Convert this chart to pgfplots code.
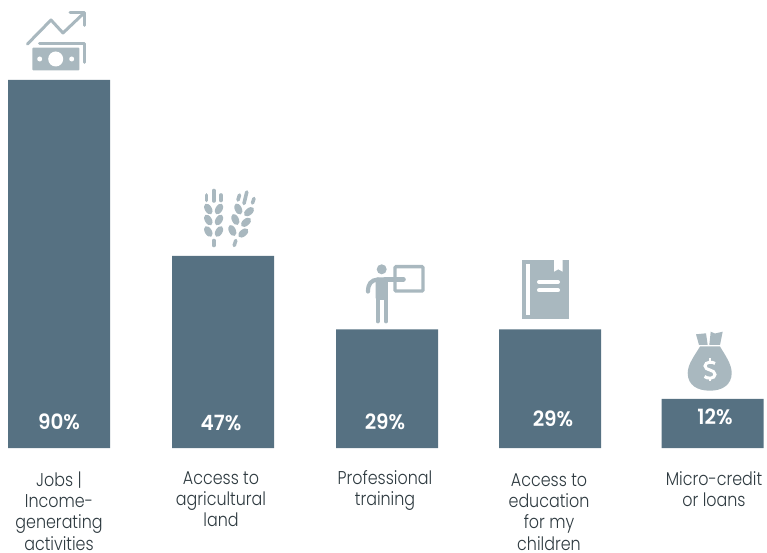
\documentclass[border=0pt]{standalone}
\usepackage{fontspec}
\setmainfont{Poppins Light}[FakeStretch=0.86]
\newfontfamily\pct{Poppins SemiBold}[FakeStretch=0.95]
\usepackage{pgfplots}
\pgfplotsset{compat=1.18}
\definecolor{bar}{HTML}{567182}
\definecolor{ico}{HTML}{A9B8BF}
\definecolor{txt}{HTML}{2E3A40}
\begin{document}
\begin{tikzpicture}
\path[use as bounding box] (0,0) rectangle (767pt,553pt);
\begin{axis}[at={(0,0)},anchor=south west,scale only axis,width=767pt,height=553pt,
  xmin=0,xmax=767,ymin=-25.67,ymax=109.54,axis lines=none,clip=false,
  ybar,bar width=102pt,bar shift=0pt]
\addplot[fill=bar,draw=none] coordinates {(59,90) (223,47) (387,29) (550,29) (712.5,12)};
\end{axis}
\begin{scope}[shift={(0,553pt)},x=1pt,y=-1pt]
% labels
\tikzset{lab/.style={align=center,text=txt,font=\fontsize{18.5}{21.3}\selectfont,inner sep=0pt},
 p/.style={text=white,font=\pct\fontsize{21}{24}\selectfont,inner sep=0pt}}
\node[lab] at (59,511) {Jobs |\\Income-\\generating\\activities};
\node[lab] at (221,499) {Access to\\agricultural\\land};
\node[lab] at (385,490.5) {Professional\\training};
\node[lab] at (549,512) {Access to\\education\\for my\\children};
\node[lab] at (714,489) {Micro-credit\\or loans};
\node[p] at (59,422) {90\%};
\node[p] at (221,423) {47\%};
\node[p] at (385,422) {29\%};
\node[p] at (553,419) {29\%};
\node[p] at (715,417) {12\%};
% icon 1
\draw[ico,line width=3pt,line cap=round,line join=round] (27.5,44)--(51,20)--(63,33)--(83,14);
\draw[ico,line width=3pt,line cap=round,line join=round] (70,12.8)--(84.3,12.8)--(84.3,25.5);
\draw[ico,line width=3pt,line cap=round,line join=round] (39.5,43.5)--(84.5,43.5)--(84.5,62.5);
\fill[ico,rounded corners=0.8pt] (32.3,47.7) rectangle (79.3,70.3);
\fill[white] (55.7,59) circle[radius=7.5pt];
\fill[white] (39.7,59) circle[radius=2.5pt] (71.7,59) circle[radius=2.5pt];
% icon 2: wheat
\begin{scope}[ico,line cap=round,line width=3.6pt]
\draw (213.7,190.5)--(213.7,201);
\draw (206.5,195)--(206.5,200.5) (221,195)--(221,200.5);
\draw (213.7,240.5)--(213.7,245.5);
\draw (246.8,192)--(244,203.5);
\draw (239.5,195)--(238,200) (254,198.5)--(252.5,203);
\draw (235.8,240.5)--(234.2,245.5);
\end{scope}
\foreach \xx/\yy/\r in {208.3/209/30, 219/209/-30, 208.3/220/30, 219/220/-30, 208.3/231.5/30, 219/231.5/-30,
   238.3/209/25, 235.3/219.5/25, 232.3/230.5/25, 249/211.7/-50, 246/222.3/-50, 243.3/233/-50}
  \fill[ico,rotate around={\r:(\xx,\yy)}] (\xx,\yy) ellipse[x radius=3.5pt,y radius=5.9pt];
% icon 3: trainer
\fill[ico] (381.7,269.3) circle[radius=5pt];
\draw[ico,line width=3.4pt,rounded corners=1pt] (395,266.7) rectangle (423,291);
\draw[ico,line width=4.6pt,line cap=round] (385,279.3)--(403.5,279.3);
\fill[ico,rounded corners=2pt] (375.7,277.5) rectangle (387.8,300);
\draw[ico,line width=3.8pt,line cap=round] (377.6,298)--(377.6,321.5) (385.9,298)--(385.9,321.5);
\draw[ico,line width=4.2pt,line cap=round] (378,279.5) .. controls (371,280) and (368,284) .. (368,291.5);
% icon 4: book
\fill[ico] (521.7,260) rectangle (569.3,319);
\fill[white] (526,264.3) rectangle (530,315);
\fill[white] (554,259.5)--(562.7,259.5)--(562.7,271.7)--(558.3,269.3)--(554,271.7)--cycle;
\draw[white,line width=4pt,line cap=round] (539,282)--(558,282) (539,290.3)--(558,290.3);
% icon 5: bag
\fill[ico] (700,346.5)--(720,346.5) .. controls (725,355) and (731.7,364) .. (731.7,373)
  .. controls (731.7,385) and (722,390.7) .. (710,390.7)
  .. controls (697,390.7) and (687.7,385) .. (687.7,373)
  .. controls (687.7,364) and (695,355) .. (700,346.5) --cycle;
\fill[ico] (696,334.3)--(706,333.3)--(707.7,345)--(699,345)--cycle;
\fill[ico] (710.7,331.7)--(715,333.5)--(722.7,331.7)--(720,345)--(709.3,345)--cycle;
\draw[white,line width=3pt] (715,363.5) .. controls (713,361.5) and (705,361.5) .. (705,366)
  .. controls (705,371) and (715,369) .. (715,374.5) .. controls (715,379) and (707,379) .. (704.5,376.5);
\draw[white,line width=2.6pt] (710,358.5)--(710,362) (710,378)--(710,381.5);
\end{scope}
\end{tikzpicture}
\end{document}
